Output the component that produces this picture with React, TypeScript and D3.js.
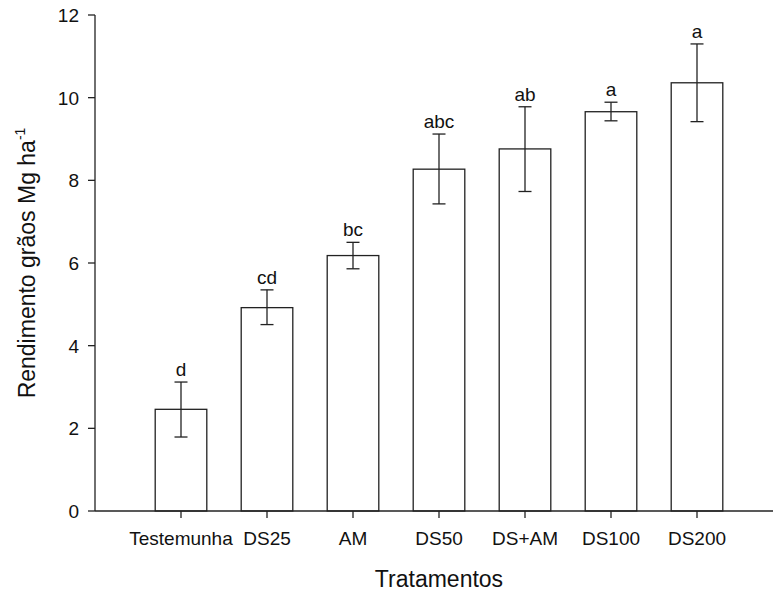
import { useMemo } from 'react';
import * as d3 from 'd3';

// treatments and mean yield with error bars
const categories = ['Testemunha', 'DS25', 'AM', 'DS50', 'DS+AM', 'DS100', 'DS200'];
const means = [2.46, 4.92, 6.18, 8.27, 8.76, 9.66, 10.36];
const errUpper = [3.12, 5.35, 6.5, 9.12, 9.78, 9.89, 11.3];
const errLower = [1.79, 4.51, 5.86, 7.43, 7.73, 9.44, 9.42];
const letters = ['d', 'cd', 'bc', 'abc', 'ab', 'a', 'a'];
const yTicks = [0, 2, 4, 6, 8, 10, 12];

const W = 773;
const H = 593;
const FONT = '"Liberation Sans", Arial, sans-serif';
const INK = '#222';

export default function App() {
	const x = useMemo(() => d3.scaleLinear().domain([0, 8]).range([95, 783]), []);
	const y = useMemo(() => d3.scaleLinear().domain([0, 12]).range([511, 15]), []);

	const barW = (x(1) - x(0)) * 0.6;
	const capW = 6.5;

	return (
		<svg
			width={W}
			height={H}
			style={{ position: 'absolute', left: 0, top: 0, background: '#fff' }}
			fontFamily={FONT}>
			{/* bars */}
			{means.map((m, i) => (
				<rect
					key={i}
					x={x(i + 1) - barW / 2}
					y={y(m)}
					width={barW}
					height={y(0) - y(m)}
					fill='white'
					stroke={INK}
					strokeWidth={1.3}
				/>
			))}

			{/* error bars */}
			{means.map((m, i) => {
				const cx = x(i + 1);
				return (
					<g key={i} stroke={INK} strokeWidth={1.3}>
						<line x1={cx} x2={cx} y1={y(errUpper[i])} y2={y(errLower[i])} />
						<line x1={cx - capW} x2={cx + capW} y1={y(errUpper[i])} y2={y(errUpper[i])} />
						<line x1={cx - capW} x2={cx + capW} y1={y(errLower[i])} y2={y(errLower[i])} />
					</g>
				);
			})}

			{/* significance letters */}
			{letters.map((l, i) => (
				<text
					key={i}
					x={x(i + 1)}
					y={y(errUpper[i]) - 6}
					textAnchor='middle'
					fontSize={19}
					fill='#111'>
					{l}
				</text>
			))}

			{/* y axis */}
			<line x1={x(0)} x2={x(0)} y1={y(0)} y2={y(12)} stroke={INK} strokeWidth={1.3} />
			{yTicks.map((t) => (
				<g key={t}>
					<line x1={x(0) - 7} x2={x(0)} y1={y(t)} y2={y(t)} stroke={INK} strokeWidth={1.3} />
					<text
						x={x(0) - 16}
						y={y(t)}
						dy='0.36em'
						textAnchor='end'
						fontSize={19}
						fill='#111'>
						{t}
					</text>
				</g>
			))}

			{/* x axis */}
			<line x1={x(0)} x2={x(8)} y1={y(0)} y2={y(0)} stroke={INK} strokeWidth={1.3} />
			{categories.map((c, i) => (
				<g key={c}>
					<line x1={x(i + 1)} x2={x(i + 1)} y1={y(0)} y2={y(0) + 7} stroke={INK} strokeWidth={1.3} />
					<text x={x(i + 1)} y={545} textAnchor='middle' fontSize={19} fill='#111'>
						{c}
					</text>
				</g>
			))}

			{/* axis titles */}
			<text x={x(4)} y={587} textAnchor='middle' fontSize={23} fill='#111'>
				Tratamentos
			</text>
			<text
				transform={`translate(35, ${263}) rotate(-90)`}
				textAnchor='middle'
				fontSize={23}
				fill='#111'>
				Rendimento grãos Mg ha
				<tspan fontSize={14} dy={-10}>
					-1
				</tspan>
			</text>
		</svg>
	);
}
